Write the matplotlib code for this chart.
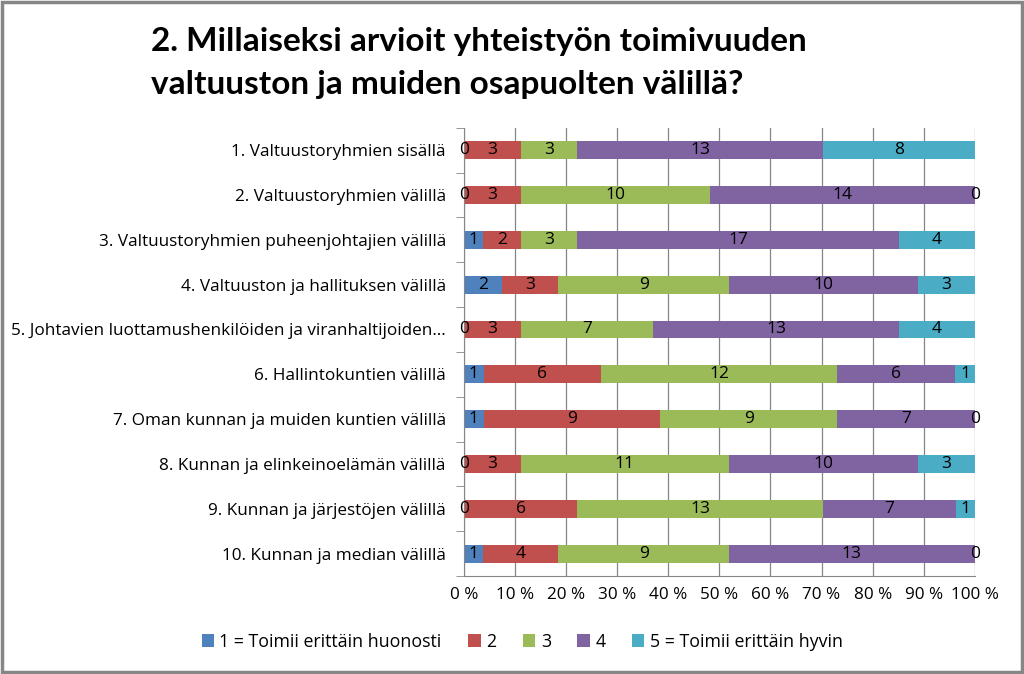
import numpy as np
import matplotlib
matplotlib.use('Agg')
import matplotlib.pyplot as plt
from matplotlib.ticker import FixedLocator, PercentFormatter

# Kysymykset ja vastausten lukumäärät (1..5)
categories = [
    "1. Valtuustoryhmien sisällä",
    "2. Valtuustoryhmien välillä",
    "3. Valtuustoryhmien puheenjohtajien välillä",
    "4. Valtuuston ja hallituksen välillä",
    "5. Johtavien luottamushenkilöiden ja viranhaltijoiden…",
    "6. Hallintokuntien välillä",
    "7. Oman kunnan ja muiden kuntien välillä",
    "8. Kunnan ja elinkeinoelämän välillä",
    "9. Kunnan ja järjestöjen välillä",
    "10. Kunnan ja median välillä",
]
series_names = ["1 = Toimii erittäin huonosti", "2", "3", "4", "5 = Toimii erittäin hyvin"]
v1 = [0, 0, 1, 2, 0, 1, 1, 0, 0, 1]
v2 = [3, 3, 2, 3, 3, 6, 9, 3, 6, 4]
v3 = [3, 10, 3, 9, 7, 12, 9, 11, 13, 9]
v4 = [13, 14, 17, 10, 13, 6, 7, 10, 7, 13]
v5 = [8, 0, 4, 3, 4, 1, 0, 3, 1, 0]
colors = ["#4F81BD", "#C0504D", "#9BBB59", "#8064A2", "#4BACC6"]

plt.rcParams['font.family'] = ['Open Sans', 'DejaVu Sans']

data = np.array([v1, v2, v3, v4, v5], dtype=float)
totals = data.sum(axis=0)
shares = data / totals

fig = plt.figure(figsize=(10.24, 6.74), dpi=100)
ax = fig.add_axes([0.453, 0.1454, 0.499, 0.665])

y = np.arange(len(categories))
left = np.zeros(len(categories))
for i in range(5):
    ax.barh(y, shares[i], left=left, height=0.4, color=colors[i],
            label=series_names[i], zorder=2)
    for j in range(len(categories)):
        cx = left[j] + shares[i][j] / 2
        ax.text(cx, y[j], str(int(data[i][j])), ha='center', va='center',
                fontsize=12.5, color='black', zorder=3)
    left += shares[i]

ax.set_xlim(0, 1)
ax.set_ylim(len(categories) - 0.5, -0.5)
ax.set_yticks(y)
ax.set_yticklabels(categories, fontsize=12.3)
ax.yaxis.set_minor_locator(FixedLocator(np.arange(-0.5, len(categories), 1)))
ax.tick_params(axis='y', which='major', length=0, pad=13)
ax.tick_params(axis='y', which='minor', length=6, color='#868686')
ax.xaxis.set_major_locator(FixedLocator(np.arange(0, 1.01, 0.1)))
ax.xaxis.set_major_formatter(PercentFormatter(1.0, decimals=0, symbol=' %'))
ax.tick_params(axis='x', length=0, labelsize=12.3, pad=8)
ax.grid(axis='x', color='#868686', linewidth=0.9, zorder=0)
for s in ['top', 'right']:
    ax.spines[s].set_visible(False)
ax.spines['left'].set_color('#868686')
ax.spines['bottom'].set_color('#868686')

fig.text(0.147, 0.96, "2. Millaiseksi arvioit yhteistyön toimivuuden\nvaltuuston ja muiden osapuolten välillä?",
         fontsize=24, fontweight='bold', family=['Lato', 'DejaVu Sans'],
         ha='left', va='top', linespacing=1.6)

ax.legend(loc='center', ncol=5, frameon=False,
          fontsize=12.8, handlelength=0.7, handleheight=0.7, columnspacing=1.5,
          handletextpad=0.3, bbox_to_anchor=(0.51, 0.048), bbox_transform=fig.transFigure)

# Kehys kuvan ympärille
fig.patches.append(plt.Rectangle((0.002, 0.003), 0.996, 0.994, transform=fig.transFigure,
                                 fill=False, edgecolor='#868686', linewidth=2.5))

fig.savefig('out.png', dpi=100)
